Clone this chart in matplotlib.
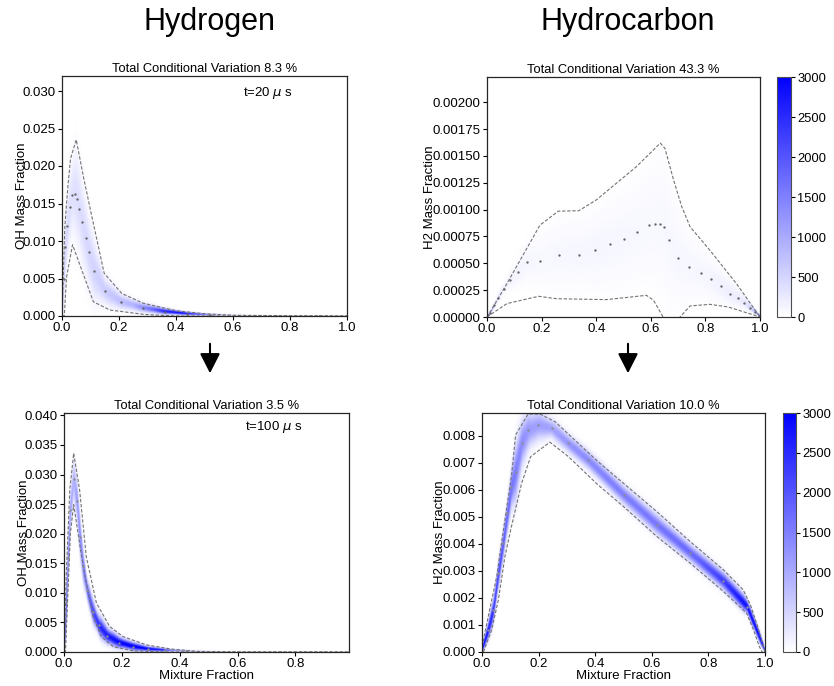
import numpy as np
import matplotlib
matplotlib.use("Agg")
import matplotlib.pyplot as plt
from matplotlib.colors import LinearSegmentedColormap
from matplotlib.ticker import FormatStrFormatter, MultipleLocator

plt.rcParams['font.family'] = ['Liberation Sans', 'DejaVu Sans']
plt.rcParams['mathtext.fontset'] = 'dejavusans'

# ---------------- Panel A: Hydrogen, t=20 us ----------------
a_title = "Total Conditional Variation 8.3 %"
a_mean_x = [0.0, 0.006, 0.012, 0.019, 0.028, 0.036, 0.044, 0.053, 0.061, 0.070, 0.083, 0.094,
            0.113, 0.151, 0.207, 0.283, 0.36, 0.44, 0.52, 0.62, 0.75, 0.9, 1.0]
a_mean_y = [0.0, 0.005, 0.0092, 0.0120, 0.0146, 0.0161, 0.0163, 0.0156, 0.0143, 0.0125, 0.0104, 0.0085,
            0.0060, 0.0033, 0.0019, 0.0011, 0.0006, 0.0003, 0.00015, 0.00006, 0.00002, 0.0, 0.0]
a_up_x = [0.0, 0.01, 0.02, 0.03, 0.05, 0.075, 0.1, 0.148, 0.21, 0.285, 0.4, 0.5, 0.6, 0.8, 1.0]
a_up_y = [0.0, 0.012, 0.017, 0.021, 0.0235, 0.0186, 0.0141, 0.0057, 0.0030, 0.0017, 0.0007, 0.0003, 0.0001, 0.00003, 0.0]
a_lo_x = [0.0, 0.008, 0.016, 0.037, 0.11, 0.168, 0.29, 0.4, 1.0]
a_lo_y = [0.0, 0.0, 0.0052, 0.0095, 0.0019, 0.0008, 0.0002, 0.0, 0.0]
a_dens_x = [0.0, 0.03, 0.08, 0.15, 0.25, 0.32, 0.36, 0.42, 0.48, 0.53, 0.6, 0.7, 1.0]
a_dens_v = [600, 350, 450, 600, 900, 1800, 2600, 2900, 2200, 900, 300, 80, 0]

# ---------------- Panel B: Hydrocarbon, t=20 us ----------------
b_title = "Total Conditional Variation 43.3 %"
b_mean_x = [0.0, 0.012, 0.027, 0.041, 0.061, 0.085, 0.115, 0.145, 0.194, 0.264, 0.336, 0.396, 0.451,
            0.50, 0.548, 0.593, 0.617, 0.634, 0.65, 0.665, 0.699, 0.741, 0.783, 0.821, 0.856, 0.891,
            0.919, 0.942, 0.962, 0.98, 1.0]
b_mean_y = [0.0, 0.00004, 0.000109, 0.00018, 0.000265, 0.000342, 0.00042, 0.000513, 0.00052, 0.000582,
            0.000582, 0.000622, 0.000676, 0.000728, 0.000794, 0.00086, 0.00087, 0.000866, 0.00084,
            0.000716, 0.00055, 0.000467, 0.000414, 0.000352, 0.000287, 0.000218, 0.000177, 0.000134,
            0.000088, 0.00005, 0.0]
b_up_x = [0.0, 0.066, 0.194, 0.261, 0.336, 0.40, 0.547, 0.635, 0.652, 0.683, 0.713, 0.744, 0.817, 0.914, 1.0]
b_up_y = [0.0, 0.00028, 0.000856, 0.000986, 0.00099, 0.00109, 0.0014, 0.00162, 0.00157, 0.00128,
          0.00103, 0.00084, 0.00062, 0.00031, 0.0]
b_lo_x = [0.0, 0.073, 0.189, 0.256, 0.438, 0.584, 0.61, 0.645, 0.676, 0.707, 0.744, 0.817, 0.884, 0.963, 1.0]
b_lo_y = [0.0, 0.000125, 0.000193, 0.00017, 0.000162, 0.000202, 0.000156, 0.0, -0.00008, 0.0,
          0.000103, 0.000118, 0.000093, 0.00003, 0.0]
b_dens_x = [0.0, 0.01, 0.03, 0.06, 0.2, 0.4, 0.6, 0.8, 0.94, 0.97, 0.99, 1.0]
b_dens_v = [3000, 1500, 400, 150, 90, 110, 90, 110, 250, 600, 1500, 3000]

# ---------------- Panel C: Hydrogen, t=100 us ----------------
c_title = "Total Conditional Variation 3.5 %"
c_mean_x = [0.0, 0.008, 0.014, 0.022, 0.033, 0.045, 0.055, 0.066, 0.08, 0.1, 0.12, 0.15, 0.19, 0.24,
            0.29, 0.35, 0.42, 0.5, 0.6, 0.75, 0.9, 0.98]
c_mean_y = [0.0, 0.0085, 0.016, 0.024, 0.0293, 0.0255, 0.0195, 0.0145, 0.0105, 0.0068, 0.0045, 0.0027,
            0.0016, 0.0009, 0.0005, 0.0003, 0.00015, 0.00007, 0.00003, 0.0, 0.0, 0.0]
c_up_x = [0.0, 0.008, 0.02, 0.0335, 0.054, 0.077, 0.112, 0.158, 0.204, 0.285, 0.37, 0.46, 0.6, 0.98]
c_up_y = [0.0, 0.0133, 0.0274, 0.0336, 0.0274, 0.0161, 0.0083, 0.0043, 0.0026, 0.0012, 0.0005, 0.0001, 0.0, 0.0]
c_lo_x = [0.0, 0.005, 0.014, 0.022, 0.0335, 0.066, 0.1, 0.129, 0.17, 0.24, 0.35, 0.98]
c_lo_y = [0.0, 0.0, 0.0105, 0.0201, 0.0249, 0.0145, 0.006, 0.0026, 0.0009, 0.0002, 0.0, 0.0]
c_dens_x = [0.0, 0.02, 0.033, 0.05, 0.08, 0.12, 0.2, 0.28, 0.34, 0.38, 0.45, 0.55, 0.65, 0.98]
c_dens_v = [2500, 1200, 900, 1300, 1800, 2500, 3000, 3000, 2600, 1500, 500, 150, 40, 0]

# ---------------- Panel D: Hydrocarbon, t=100 us ----------------
d_title = "Total Conditional Variation 10.0 %"
d_mean_x = [0.0, 0.022, 0.04, 0.058, 0.075, 0.09, 0.104, 0.119, 0.14, 0.163, 0.199, 0.246, 0.305,
            0.375, 0.5, 0.618, 0.735, 0.853, 0.935, 1.0]
d_mean_y = [0.0001, 0.00082, 0.00156, 0.00292, 0.00403, 0.00513, 0.00612, 0.00667, 0.00772, 0.00821,
            0.0084, 0.00828, 0.00772, 0.0071, 0.00581, 0.0047, 0.00366, 0.00261, 0.00168, 0.0]
d_up_x = [0.0, 0.022, 0.052, 0.081, 0.104, 0.119, 0.163, 0.205, 0.258, 0.34, 0.41, 0.5, 0.618,
          0.735, 0.853, 0.923, 0.95, 0.975, 1.0]
d_up_y = [0.0002, 0.00131, 0.00279, 0.00489, 0.00649, 0.00803, 0.0088, 0.0088, 0.00852, 0.00772,
          0.00704, 0.00624, 0.00519, 0.00409, 0.00304, 0.0023, 0.0017, 0.0009, 0.0]
d_lo_x = [0.005, 0.034, 0.058, 0.081, 0.104, 0.14, 0.172, 0.24, 0.305, 0.41, 0.5, 0.618, 0.735,
          0.853, 0.935, 0.96, 0.98, 0.99]
d_lo_y = [0.0, 0.00082, 0.00193, 0.00353, 0.00464, 0.00624, 0.00723, 0.00776, 0.00723, 0.00618,
          0.00538, 0.00427, 0.00329, 0.00224, 0.00144, 0.0008, 0.0002, 0.0]
d_dens_x = [0.0, 0.04, 0.08, 0.12, 0.17, 0.25, 0.32, 0.45, 0.6, 0.75, 0.85, 0.92, 1.0]
d_dens_v = [3000, 2400, 1900, 1500, 1150, 1100, 1300, 1500, 1600, 1800, 2300, 2800, 3000]

time_labels = ["t=20 $\\mu$ s", "t=100 $\\mu$ s"]
column_titles = ["Hydrogen", "Hydrocarbon"]
cbar_ticks = [0, 500, 1000, 1500, 2000, 2500, 3000]

cmap = LinearSegmentedColormap.from_list("wb", ["#ffffff", "#0000ff"])

W, H = 834, 686
fig = plt.figure(figsize=(W / 100, H / 100), dpi=100)


def px_axes(l, t, r, b):
    return fig.add_axes([l / W, (H - b) / H, (r - l) / W, (b - t) / H])


def density(ax, xlim, ylim, mx, my, ux, uy, lx, ly, dx, dv):
    nx, ny = 500, 500
    gx = np.linspace(xlim[0], xlim[1], nx)
    gy = np.linspace(ylim[0], ylim[1], ny)
    c = np.interp(gx, mx, my)
    half = (np.interp(gx, ux, uy) - np.interp(gx, lx, ly)) / 2.0
    sig = np.maximum(half / 2.0, (ylim[1] - ylim[0]) / ny * 1.5)
    pk = np.interp(gx, dx, dv)
    Z = pk[None, :] * np.exp(-0.5 * ((gy[:, None] - c[None, :]) / sig[None, :]) ** 2)
    im = ax.imshow(Z, origin='lower', aspect='auto', cmap=cmap, vmin=0, vmax=3000,
                   extent=[xlim[0], xlim[1], ylim[0], ylim[1]], interpolation='bilinear')
    return im


def panel(ax, title, xlim, ylim, mx, my, ux, uy, lx, ly, dx, dv, yfmt, ystep, dotcolor):
    im = density(ax, xlim, ylim, mx, my, ux, uy, lx, ly, dx, dv)
    ax.plot(ux, uy, ls='--', color='0.45', lw=0.8, dashes=(3, 1.6))
    ax.plot(lx, ly, ls='--', color='0.45', lw=0.8, dashes=(3, 1.6))
    ax.plot(mx, my, ls='none', marker='o', ms=1.7, color=dotcolor, mew=0)
    ax.set_xlim(*xlim)
    ax.set_ylim(*ylim)
    ax.set_title(title, fontsize=9.3, pad=3)
    ax.yaxis.set_major_formatter(FormatStrFormatter(yfmt))
    ax.yaxis.set_major_locator(MultipleLocator(ystep))
    ax.tick_params(labelsize=9.5, length=3, width=0.8, pad=1.5)
    for s in ax.spines.values():
        s.set_linewidth(0.9)
        s.set_color('0.15')
    return im


axA = px_axes(62, 76, 347, 316)
panel(axA, a_title, (0, 1.0), (0, 0.032), a_mean_x, a_mean_y, a_up_x, a_up_y, a_lo_x, a_lo_y,
      a_dens_x, a_dens_v, '%.3f', 0.005, '0.4')
axA.set_ylabel("OH Mass Fraction", fontsize=9.5)
axA.yaxis.set_label_coords(-0.12, 0.5)
axA.text(0.635, 0.93, time_labels[0], transform=axA.transAxes, fontsize=9.5, va='center')

axB = px_axes(487, 77, 760, 317)
imB = panel(axB, b_title, (0, 1.0), (0, 0.002236), b_mean_x, b_mean_y, b_up_x, b_up_y, b_lo_x, b_lo_y,
            b_dens_x, b_dens_v, '%.5f', 0.00025, '0.4')
axB.set_ylabel("H2 Mass Fraction", fontsize=9.5)
axB.yaxis.set_label_coords(-0.185, 0.5)
caxB = px_axes(777, 77, 791, 317)
cb = fig.colorbar(imB, cax=caxB, ticks=cbar_ticks)
cb.ax.tick_params(labelsize=9.3, length=3, pad=1.5)
cb.outline.set_edgecolor('0.3')

axC = px_axes(64, 413, 349, 652)
panel(axC, c_title, (0, 0.985), (0, 0.0404), c_mean_x, c_mean_y, c_up_x, c_up_y, c_lo_x, c_lo_y,
      c_dens_x, c_dens_v, '%.3f', 0.005, '0.55')
axC.set_xticks([0.0, 0.2, 0.4, 0.6, 0.8])
axC.set_ylabel("OH Mass Fraction", fontsize=9.5)
axC.yaxis.set_label_coords(-0.12, 0.5)
axC.set_xlabel("Mixture Fraction", fontsize=9.5, labelpad=0)
axC.text(0.635, 0.94, time_labels[1], transform=axC.transAxes, fontsize=9.5, va='center')

axD = px_axes(482, 413, 765, 652)
imD = panel(axD, d_title, (0, 1.0), (0, 0.00884), d_mean_x, d_mean_y, d_up_x, d_up_y, d_lo_x, d_lo_y,
            d_dens_x, d_dens_v, '%.3f', 0.001, '0.55')
axD.set_ylabel("H2 Mass Fraction", fontsize=9.5)
axD.yaxis.set_label_coords(-0.128, 0.5)
axD.set_xlabel("Mixture Fraction", fontsize=9.5, labelpad=0)
caxD = px_axes(783, 413, 796, 652)
cb2 = fig.colorbar(imD, cax=caxD, ticks=cbar_ticks)
cb2.ax.tick_params(labelsize=9.3, length=3, pad=1.5)
cb2.outline.set_edgecolor('0.3')

fig.text(210 / W, 1 - 22 / H, column_titles[0], fontsize=22, ha='center', va='center')
fig.text(628 / W, 1 - 22 / H, column_titles[1], fontsize=22, ha='center', va='center')

for xa in (210, 628):
    fig.add_artist(matplotlib.patches.FancyArrowPatch(
        (xa / W, (H - 341) / H), (xa / W, (H - 376) / H), transform=fig.transFigure,
        arrowstyle='-|>,head_length=0.55,head_width=0.28', mutation_scale=22, lw=1.5, color='k'))

fig.savefig("out.png", dpi=100)
